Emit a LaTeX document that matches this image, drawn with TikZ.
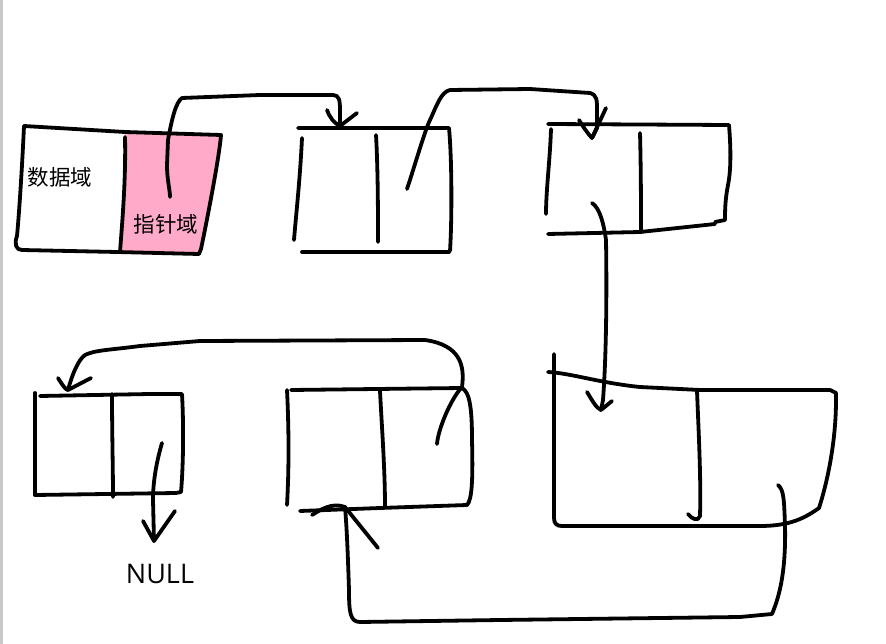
\documentclass[tikz,border=0pt]{standalone}
\usepackage{fontspec}
\newfontfamily\cjk{Noto Sans CJK SC}
\setsansfont{Open Sans}
\definecolor{pinkfill}{HTML}{FFAAC8}
\definecolor{edgegrey}{HTML}{C8C8C8}
\begin{document}
\begin{tikzpicture}[x=1pt,y=-1pt,
  ink/.style={line width=3.8pt,line cap=round,line join=round,black},
  lbl/.style={inner sep=0pt,font=\cjk\fontsize{21.5}{23}\selectfont},
  tip/.style={ink}]
\useasboundingbox (0,0) rectangle (886,644);
\fill[white] (0,0) rectangle (886,644);
\draw[edgegrey,line width=3pt] (1.5,0) -- (1.5,644);

% ---------- node 1 (head) ----------
\fill[pinkfill] (125,133) -- (221,135) -- (201,253) -- (121,252) -- cycle;
\draw[ink] (24,126) -- (125,132) -- (221,135) .. controls (219,160) and (205,230) .. (201,249) -- (199,254);
\draw[ink] (24,126) .. controls (22,170) and (19,215) .. (17,236) .. controls (14,244) and (16,250) .. (22,250) -- (117,252) -- (199,254);
\draw[ink] (125,137) .. controls (126,180) and (122,225) .. (120,252);
\node[lbl] (data) at (60,177) {数据域};
\node[lbl] (ptr) at (166,224) {指针域};

% ---------- node 2 ----------
\draw[ink] (298,128) -- (449,128) .. controls (452,160) and (452,220) .. (450,251);
\draw[ink] (302,138) .. controls (300,180) and (296,215) .. (294,240);
\draw[ink] (302,252) -- (449,252);
\draw[ink] (376,135) .. controls (378,170) and (378,215) .. (378,242);

% ---------- node 3 ----------
\draw[ink] (548,124) -- (729,125) .. controls (731,150) and (731,170) .. (728,185) .. controls (725,200) and (725,212) .. (725,220) -- (715,222);
\draw[ink] (551,129) .. controls (550,160) and (546,190) .. (546,214);
\draw[ink] (548,234) -- (640,232) -- (715,224);
\draw[ink] (640,133) .. controls (641,170) and (641,210) .. (641,232);

% ---------- node 4 ----------
\draw[ink] (554,354) -- (554,518) .. controls (554,524) and (557,526) .. (562,526) -- (760,526) .. controls (790,526) and (805,518) .. (819,508) .. controls (828,480) and (836,440) .. (836,400) -- (836,393) -- (830,390) -- (700,390) -- (640,387) .. controls (600,383) and (570,373) .. (548,372);
\draw[ink] (697,391) .. controls (699,440) and (701,480) .. (700,516) .. controls (698,522) and (692,519) .. (688,514);

% ---------- node 5 ----------
\draw[ink] (287,390) .. controls (289,430) and (289,470) .. (287,505);
\draw[ink] (291,390) -- (462,388) .. controls (470,392) and (472,410) .. (472,440) .. controls (473,480) and (472,500) .. (467,505) -- (380,508) -- (300,511);
\draw[ink] (380,391) .. controls (382,430) and (385,470) .. (385,507);

% ---------- node 6 ----------
\draw[ink] (35,393) -- (35,495);
\draw[ink] (40,396) -- (150,394) -- (182,394) .. controls (184,430) and (183,470) .. (181,492) -- (176,493) -- (35,495);
\draw[ink] (112,394) .. controls (112,430) and (113,470) .. (113,497);

% ---------- named ends ----------
\coordinate (s1) at (170,197);
\coordinate (e1) at (340,126);
\coordinate (s2) at (407,189);
\coordinate (e2) at (592,138);
\coordinate (s3) at (592,203);
\coordinate (e3) at (601,410);
\coordinate (s4) at (778,485);
\coordinate (e4) at (345,507);
\coordinate (s5) at (437,444);
\coordinate (e5) at (68,390);
\coordinate (s6) at (162,443);
\coordinate (e6) at (154,541);

% arrow 1
\draw[ink] (s1) .. controls (170,190) and (167,180) .. (167,165) -- (168,140) .. controls (172,118) and (176,102) .. (182,98) -- (260,95) -- (333,95) .. controls (339,95) and (340,100) .. (340,110) -- (e1);
\draw[tip] (327,110) .. controls (330,118) and (334,123) .. (e1) -- (357,113);
% arrow 2
\draw[ink] (s2) .. controls (415,165) and (425,130) .. (430,120) .. controls (437,105) and (441,92) .. (450,90) -- (530,89) -- (590,93) .. controls (597,95) and (597,100) .. (597,110) -- (597,128) -- (e2);
\draw[tip] (579,120) .. controls (584,128) and (588,134) .. (e2) -- (606,108);
% arrow 3
\draw[ink] (s3) .. controls (600,208) and (604,225) .. (606,240) .. controls (607,300) and (606,360) .. (603,400) -- (e3);
\draw[tip] (587,392) .. controls (592,400) and (596,408) .. (e3) -- (612,401);
% arrow 4
\draw[ink] (s4) .. controls (784,490) and (784,500) .. (785,525) .. controls (786,570) and (780,595) .. (772,614) -- (740,617) -- (500,620) -- (360,622) .. controls (350,622) and (349,612) .. (349,590) .. controls (348,560) and (347,530) .. (e4);
\draw[tip] (312,515) .. controls (320,510) and (332,502) .. (e4) -- (378,548);
% arrow 5
\draw[ink] (s5) .. controls (438,430) and (450,400) .. (462,387) .. controls (465,365) and (460,345) .. (425,340) -- (200,341) -- (140,346) .. controls (110,350) and (95,350) .. (85,355) .. controls (78,360) and (72,375) .. (e5);
\draw[tip] (58,378) .. controls (63,386) and (66,390) .. (e5) -- (91,378);
% arrow 6
\draw[ink] (s6) .. controls (157,460) and (153,480) .. (153,500) -- (e6);
\draw[tip] (143,521) -- (e6) -- (175,511);

\node[font=\sffamily\fontsize{27}{29}\selectfont,inner sep=0pt] (null) at (160,574) {NULL};
\end{tikzpicture}
\end{document}
